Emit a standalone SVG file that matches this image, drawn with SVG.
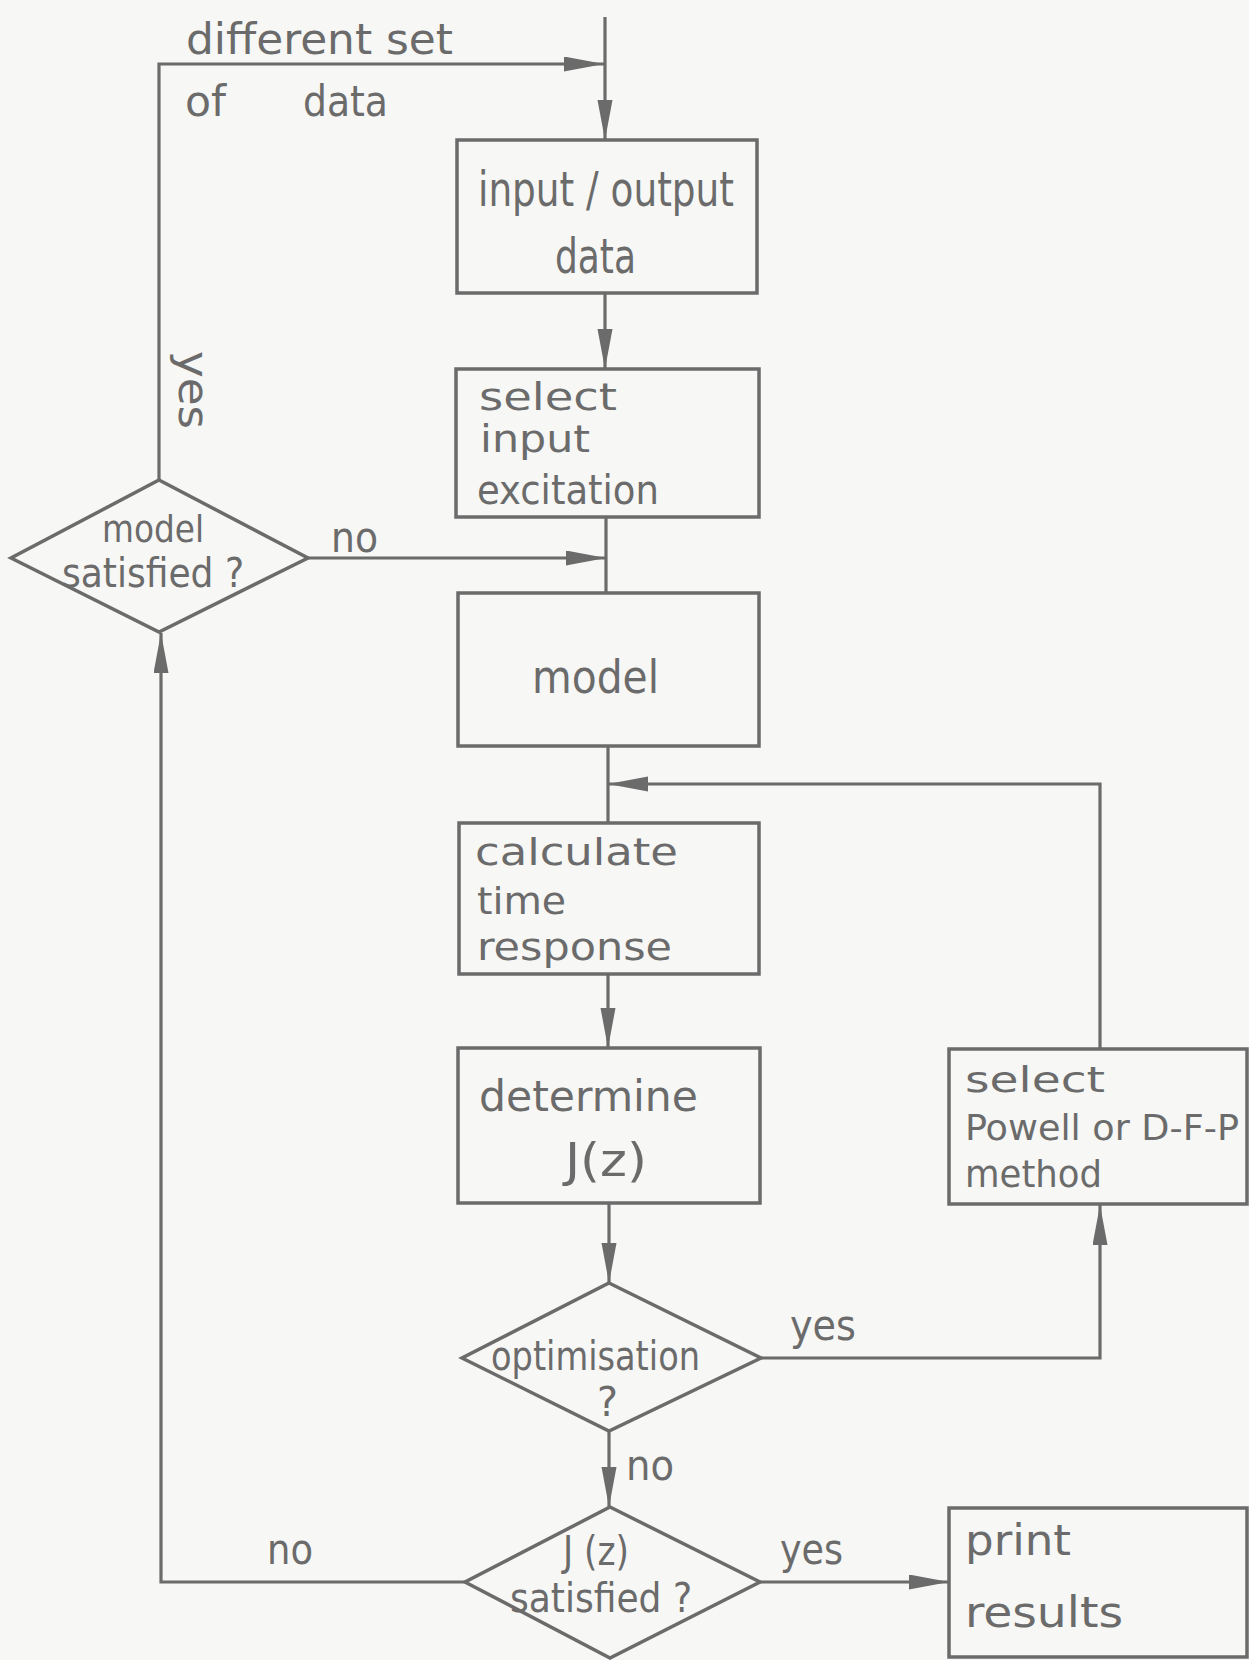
<svg xmlns="http://www.w3.org/2000/svg" width="1249" height="1660" viewBox="0 0 1249 1660">
<defs>
<style>
.bx{fill:none;stroke:#6b6b6b;stroke-width:3.5}
.ln{fill:none;stroke:#6b6b6b;stroke-width:3.2}
text{font-family:"DejaVu Sans Condensed","Liberation Sans Narrow","Liberation Sans",sans-serif;fill:#6b6b6b;font-size:42px}
</style>
<marker id="ah" markerUnits="userSpaceOnUse" markerWidth="42" markerHeight="16" refX="40" refY="7.5" orient="auto">
<path d="M0,0 L40,7.5 L0,15 Z" fill="#6b6b6b"/>
</marker>
</defs>
<rect x="0" y="0" width="1249" height="1660" fill="#f7f7f5"/>
<g id="connectors">
<path class="ln" d="M605,17 V140" marker-end="url(#ah)"/>
<path class="ln" d="M159,480 V64 H604" marker-end="url(#ah)"/>
<path class="ln" d="M605,293 V369" marker-end="url(#ah)"/>
<path class="ln" d="M606,517 V593"/>
<path class="ln" d="M308,558 H606" marker-end="url(#ah)"/>
<path class="ln" d="M608,746 V823"/>
<path class="ln" d="M1100,1049 V784 H608" marker-end="url(#ah)"/>
<path class="ln" d="M608,974 V1048" marker-end="url(#ah)"/>
<path class="ln" d="M609,1203 V1283" marker-end="url(#ah)"/>
<path class="ln" d="M761,1358 H1100 V1205" marker-end="url(#ah)"/>
<path class="ln" d="M609,1431 V1507" marker-end="url(#ah)"/>
<path class="ln" d="M760,1582 H949" marker-end="url(#ah)"/>
<path class="ln" d="M465,1582 H161 V633" marker-end="url(#ah)"/>
<text x="186" y="54" textLength="267" lengthAdjust="spacingAndGlyphs">different set</text>
<text x="185" y="116" textLength="41" lengthAdjust="spacingAndGlyphs">of</text>
<text x="303" y="116" textLength="85" lengthAdjust="spacingAndGlyphs">data</text>
<text transform="translate(179,351) rotate(90)" x="0" y="0" textLength="78" lengthAdjust="spacingAndGlyphs">yes</text>
<text x="331" y="552" textLength="47" lengthAdjust="spacingAndGlyphs">no</text>
<text x="790" y="1340" textLength="66" lengthAdjust="spacingAndGlyphs">yes</text>
<text x="626" y="1480" textLength="48" lengthAdjust="spacingAndGlyphs">no</text>
<text x="780" y="1564" textLength="63" lengthAdjust="spacingAndGlyphs">yes</text>
<text x="267" y="1564" textLength="46" lengthAdjust="spacingAndGlyphs">no</text>
</g>
<g id="n-io">
<rect class="bx" x="457" y="140" width="300" height="153"/>
<text x="478" y="206" textLength="256" lengthAdjust="spacingAndGlyphs" style="font-size:48px">input / output</text>
<text x="555" y="273" textLength="81" lengthAdjust="spacingAndGlyphs" style="font-size:48px">data</text>
</g>
<g id="n-select-input">
<rect class="bx" x="456" y="369" width="303" height="148"/>
<text x="479" y="410" textLength="138" lengthAdjust="spacingAndGlyphs" style="font-size:37px">select</text>
<text x="480" y="452" textLength="110" lengthAdjust="spacingAndGlyphs" style="font-size:37px">input</text>
<text x="477" y="504" textLength="182" lengthAdjust="spacingAndGlyphs" style="font-size:40px">excitation</text>
</g>
<g id="n-model">
<rect class="bx" x="458" y="593" width="301" height="153"/>
<text x="532" y="693" textLength="127" lengthAdjust="spacingAndGlyphs" style="font-size:46px">model</text>
</g>
<g id="n-calc">
<rect class="bx" x="459" y="823" width="300" height="151"/>
<text x="475" y="865" textLength="203" lengthAdjust="spacingAndGlyphs" style="font-size:38px">calculate</text>
<text x="477" y="914" textLength="89" lengthAdjust="spacingAndGlyphs" style="font-size:38px">time</text>
<text x="477" y="960" textLength="195" lengthAdjust="spacingAndGlyphs" style="font-size:38px">response</text>
</g>
<g id="n-determine">
<rect class="bx" x="458" y="1048" width="302" height="155"/>
<text x="479" y="1111" textLength="219" lengthAdjust="spacingAndGlyphs">determine</text>
<text x="565" y="1176" textLength="82" lengthAdjust="spacingAndGlyphs" style="font-size:46px">J(z)</text>
</g>
<g id="n-powell">
<rect class="bx" x="949" y="1049" width="298" height="155"/>
<text x="965" y="1092" textLength="140" lengthAdjust="spacingAndGlyphs" style="font-size:36px">select</text>
<text x="965" y="1140" textLength="274" lengthAdjust="spacingAndGlyphs" style="font-size:36px">Powell or D-F-P</text>
<text x="965" y="1187" textLength="137" lengthAdjust="spacingAndGlyphs" style="font-size:38px">method</text>
</g>
<g id="n-model-satisfied">
<polygon class="bx" points="159,480 308,558 159,632 11,558"/>
<text x="102" y="542" textLength="102" lengthAdjust="spacingAndGlyphs" style="font-size:38px">model</text>
<text x="62" y="587" textLength="182" lengthAdjust="spacingAndGlyphs" style="font-size:40px">satisfied ?</text>
</g>
<g id="n-optimisation">
<polygon class="bx" points="609,1283 761,1358 609,1431 462,1358"/>
<text x="491" y="1370" textLength="209" lengthAdjust="spacingAndGlyphs" style="font-size:40px">optimisation</text>
<text x="597" y="1416" textLength="21" lengthAdjust="spacingAndGlyphs" style="font-size:40px">?</text>
</g>
<g id="n-j-satisfied">
<polygon class="bx" points="610,1507 760,1582 610,1658 465,1582"/>
<text x="563" y="1565" textLength="66" lengthAdjust="spacingAndGlyphs" style="font-size:40px">J (z)</text>
<text x="510" y="1612" textLength="182" lengthAdjust="spacingAndGlyphs" style="font-size:40px">satisfied ?</text>
</g>
<g id="n-print">
<rect class="bx" x="949" y="1508" width="298" height="149"/>
<text x="965" y="1555" textLength="106" lengthAdjust="spacingAndGlyphs">print</text>
<text x="965" y="1627" textLength="158" lengthAdjust="spacingAndGlyphs">results</text>
</g>
</svg>
